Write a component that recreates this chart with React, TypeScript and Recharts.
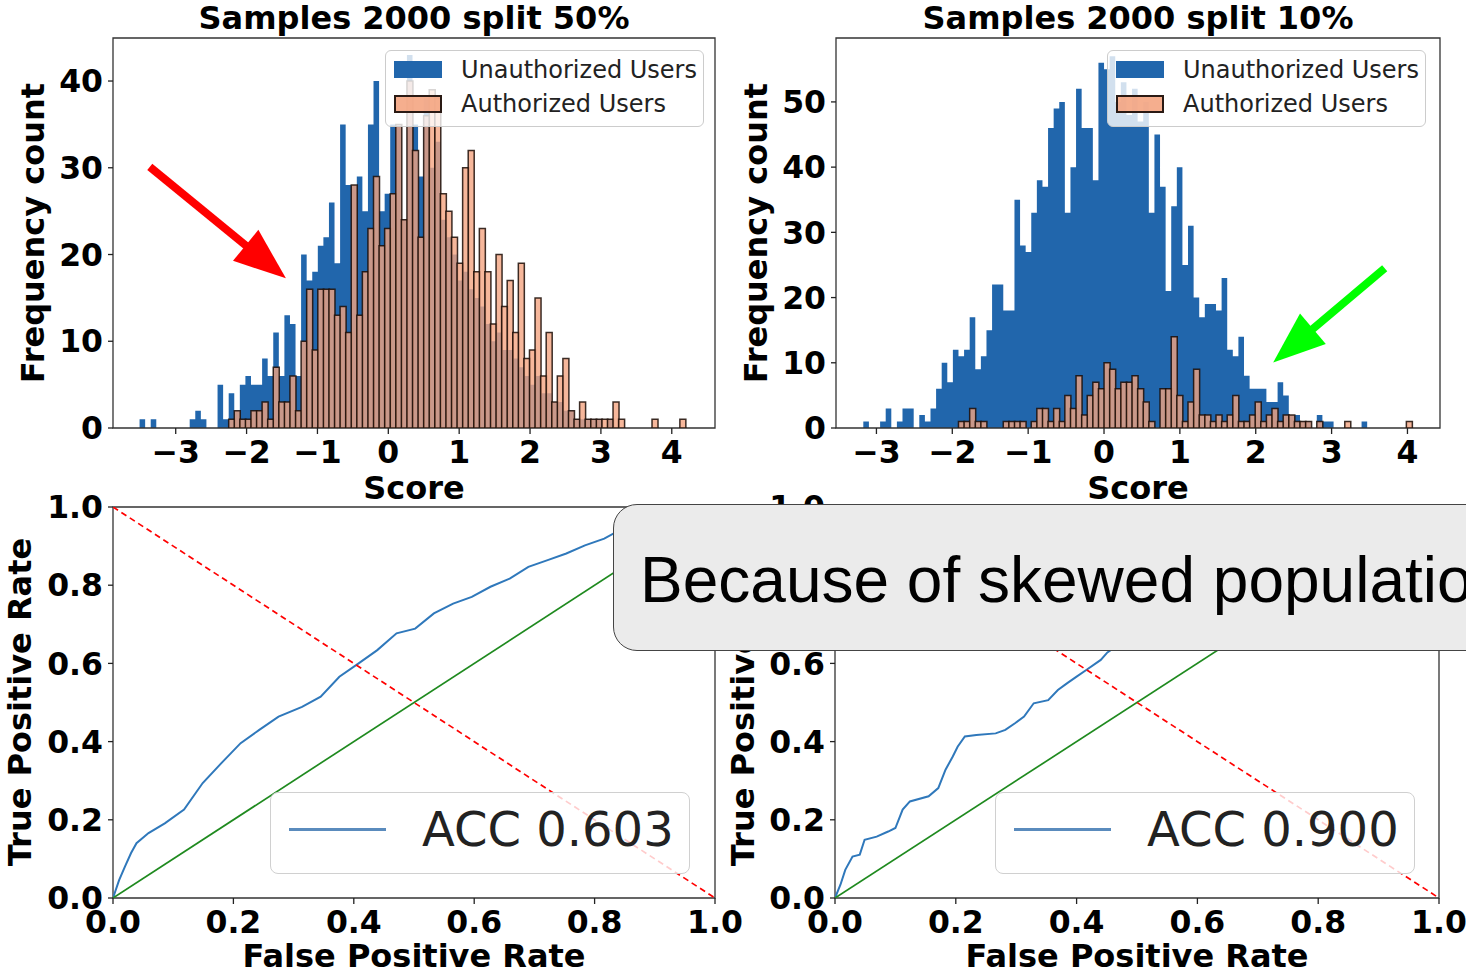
import React from 'react';
import {
  ComposedChart,
  LineChart,
  Line,
  Area,
  Bar,
  XAxis,
  YAxis,
  ReferenceArea,
  ReferenceLine,
  Legend,
} from 'recharts';

const FONT = '"DejaVu Sans", "Liberation Sans", sans-serif';
const BLUE = '#2166ac';
const SALMON = '#f4a582';

// ---------------- data ----------------
const titles = ['Samples 2000 split 50%', 'Samples 2000 split 10%'];
const seriesNames = ['Unauthorized Users', 'Authorized Users'];
const histXLabel = 'Score';
const histYLabel = 'Frequency count';
const rocXLabel = 'False Positive Rate';
const rocYLabel = 'True Positive Rate';
const accLabels = ['ACC 0.603', 'ACC 0.900'];
const calloutText = 'Because of skewed population';

const histTicks = [-3, -2, -1, 0, 1, 2, 3, 4];
const tlCountTicks = [0, 10, 20, 30, 40];
const trCountTicks = [0, 10, 20, 30, 40, 50];
const rateTicks = [0, 0.2, 0.4, 0.6, 0.8, 1.0];

// split 50% histogram (common bins)
const tlBinStart = -3.51;
const tlBinWidth = 0.0786;
const tlUnauthorized = [
  1, 0, 1, 0, 0, 0, 0, 0, 0, 1,
  2, 1, 0, 0, 5, 1, 4, 2, 5, 6,
  5, 5, 8, 6, 11, 6, 13, 12, 6, 20,
  17, 18, 21, 22, 26, 19, 35, 28, 28, 29,
  25, 35, 40, 25, 27, 35, 35, 24, 43, 35,
  29, 38, 30, 33, 24, 22, 20, 17, 18, 16,
  15, 14, 12, 10, 11, 9, 9, 8, 7, 6,
  5, 6, 4, 4, 3, 3, 2, 2, 1, 1,
  1, 1, 1, 0, 1, 0, 0, 0, 0, 0,
  0, 0, 0, 0, 0, 0, 0, 0, 0, 0,
];
const tlAuthorized = [
  0, 0, 0, 0, 0, 0, 0, 0, 0, 0,
  0, 0, 0, 0, 0, 0, 1, 2, 1, 1,
  2, 2, 3, 1, 7, 3, 3, 6, 2, 10,
  16, 9, 16, 16, 16, 13, 14, 11, 28, 13,
  18, 23, 29, 21, 23, 27, 35, 24, 40, 32,
  22, 36, 39, 38, 27, 25, 22, 19, 30, 32,
  18, 23, 18, 12, 20, 14, 17, 11, 19, 8,
  9, 15, 6, 11, 3, 6, 8, 2, 1, 3,
  1, 1, 1, 1, 1, 3, 1, 0, 0, 0,
  0, 0, 1, 0, 0, 0, 0, 1, 0, 0,
];

// split 10% histogram (common bins)
const trBinStart = -3.173;
const trBinWidth = 0.0738;
const trUnauthorized = [
  1, 0, 0, 1, 3, 0, 1, 3, 3, 0,
  2, 1, 3, 6, 10, 7, 12, 11, 12, 17,
  9, 11, 15, 22, 22, 18, 18, 35, 28, 27,
  33, 38, 37, 46, 49, 50, 33, 40, 52, 46,
  46, 38, 56, 55, 57, 50, 53, 48, 52, 47,
  50, 33, 45, 37, 21, 34, 40, 25, 31, 20,
  17, 19, 19, 18, 23, 12, 11, 14, 8, 6,
  6, 6, 4, 4, 7, 5, 2, 2, 1, 1,
  0, 2, 1, 1, 0, 0, 0, 0, 0, 1,
  0, 0, 0, 0, 0, 0, 0, 0, 0,
];
const trAuthorized = [
  0, 0, 0, 0, 0, 0, 0, 0, 0, 0,
  0, 0, 0, 0, 0, 0, 0, 1, 1, 3,
  1, 1, 0, 0, 0, 1, 1, 1, 1, 0,
  1, 3, 3, 1, 3, 1, 5, 3, 8, 2,
  5, 7, 6, 10, 9, 6, 7, 7, 8, 6,
  4, 1, 0, 6, 6, 14, 5, 1, 4, 9,
  2, 2, 1, 2, 1, 2, 5, 1, 1, 2,
  4, 1, 2, 3, 1, 2, 2, 1, 1, 1,
  0, 1, 0, 0, 0, 0, 1, 0, 0, 0,
  0, 0, 0, 0, 0, 0, 0, 1, 0,
];

// ROC curves
const roc50Fpr = [0, 0.01, 0.02, 0.03, 0.039, 0.059, 0.086, 0.118, 0.149, 0.18, 0.212, 0.243, 0.275, 0.314, 0.345, 0.376, 0.408, 0.439, 0.471, 0.502, 0.533, 0.565, 0.596, 0.627, 0.659, 0.69, 0.722, 0.753, 0.784, 0.816, 0.831, 0.87, 0.92, 0.96, 1];
const roc50Tpr = [0, 0.045, 0.081, 0.115, 0.14, 0.166, 0.191, 0.226, 0.294, 0.345, 0.396, 0.43, 0.464, 0.489, 0.515, 0.566, 0.6, 0.634, 0.677, 0.689, 0.728, 0.753, 0.77, 0.796, 0.817, 0.847, 0.864, 0.881, 0.902, 0.919, 0.932, 0.945, 0.965, 0.985, 1];
const roc10Fpr = [0, 0.009, 0.017, 0.029, 0.041, 0.049, 0.069, 0.088, 0.1, 0.112, 0.124, 0.155, 0.171, 0.183, 0.195, 0.203, 0.215, 0.234, 0.266, 0.282, 0.298, 0.313, 0.329, 0.353, 0.369, 0.384, 0.4, 0.416, 0.44, 0.451, 0.5, 0.6, 0.7, 0.8, 0.9, 1];
const roc10Tpr = [0, 0.034, 0.072, 0.106, 0.111, 0.149, 0.157, 0.17, 0.179, 0.226, 0.247, 0.26, 0.281, 0.328, 0.362, 0.387, 0.413, 0.417, 0.421, 0.43, 0.447, 0.464, 0.498, 0.506, 0.532, 0.549, 0.566, 0.583, 0.609, 0.628, 0.68, 0.76, 0.83, 0.9, 0.95, 1];
const chanceLine = [{ fpr: 0, tpr: 0 }, { fpr: 1, tpr: 1 }];
const thresholdLine = [{ fpr: 0, tpr: 1 }, { fpr: 1, tpr: 0 }];

// annotation arrows (data coordinates of the histogram they sit on)
const redArrow = [{ x: -3.366, y: 30.1 }, { x: -1.445, y: 17.26 }];
const greenArrow = [{ x: 3.7, y: 24.5 }, { x: 2.23, y: 10.06 }];

// ---------------- helpers ----------------
function histTable(start: number, width: number, u: number[], a: number[]) {
  const rows: { x: number; u: number; a: number }[] = [];
  for (let i = -1; i <= u.length; i++) {
    const inside = i >= 0 && i < u.length;
    rows.push({ x: start + width * (i + 0.5), u: inside ? u[i] : 0, a: inside ? a[i] : 0 });
  }
  return rows;
}
function rocTable(f: number[], t: number[]) {
  return f.map((v, i) => ({ fpr: v, tpr: t[i] }));
}
const fmtScore = (v: number) => (v < 0 ? '\u2212' + Math.abs(v) : String(v));
const fmtRate = (v: number) => v.toFixed(1);

const tickStyle = { fill: '#000', fontSize: 31.5, fontWeight: 'bold', fontFamily: FONT } as any;
const tickLineStyle = { stroke: '#222', strokeWidth: 1.3 };

const makeArrow = (color: string) => (props: any) => {
  const { x1, y1, x2, y2 } = props;
  const dx = x2 - x1;
  const dy = y2 - y1;
  const len = Math.hypot(dx, dy) || 1;
  const ux = dx / len;
  const uy = dy / len;
  const headLen = 52;
  const headW = 40;
  const bx = x2 - ux * headLen;
  const by = y2 - uy * headLen;
  const px = -uy;
  const py = ux;
  return (
    <g>
      <line x1={x1} y1={y1} x2={bx + ux * 3} y2={by + uy * 3} stroke={color} strokeWidth={8} />
      <polygon
        points={`${x2},${y2} ${bx + (px * headW) / 2},${by + (py * headW) / 2} ${bx - (px * headW) / 2},${by - (py * headW) / 2}`}
        fill={color}
      />
    </g>
  );
};

function HistLegend() {
  return (
    <div
      style={{
        width: 319,
        height: 77,
        boxSizing: 'border-box',
        border: '1px solid #cccccc',
        borderRadius: 6,
        background: 'rgba(255,255,255,0.8)',
        position: 'relative',
        fontFamily: FONT,
        fontSize: 24,
        color: '#222',
      }}
    >
      <div style={{ position: 'absolute', left: 8, top: 10, width: 48, height: 17, background: BLUE }} />
      <div
        style={{
          position: 'absolute',
          left: 8,
          top: 44,
          width: 48,
          height: 18,
          boxSizing: 'border-box',
          background: 'rgba(244,165,130,0.9)',
          border: '2px solid #2a1a14',
        }}
      />
      <div style={{ position: 'absolute', left: 75, top: 4, lineHeight: '30px', whiteSpace: 'nowrap' }}>{seriesNames[0]}</div>
      <div style={{ position: 'absolute', left: 75, top: 38, lineHeight: '30px', whiteSpace: 'nowrap' }}>{seriesNames[1]}</div>
    </div>
  );
}

function RocLegend({ label }: { label: string }) {
  return (
    <div
      style={{
        width: 420,
        height: 82,
        boxSizing: 'border-box',
        border: '1px solid #d0d0d0',
        borderRadius: 8,
        background: 'rgba(255,255,255,0.8)',
        position: 'relative',
        fontFamily: FONT,
        fontSize: 48,
        color: '#222',
      }}
    >
      <div style={{ position: 'absolute', left: 18, top: 35, width: 97, height: 3, background: '#5a8bbd' }} />
      <div style={{ position: 'absolute', left: 151, top: 8, lineHeight: '56px', whiteSpace: 'nowrap' }}>{label}</div>
    </div>
  );
}

function Lbl({ text, cx, cy, size = 32, rotate = false }: { text: string; cx: number; cy: number; size?: number; rotate?: boolean }) {
  return (
    <div
      style={{
        position: 'absolute',
        left: cx,
        top: cy,
        transform: `translate(-50%, -50%)${rotate ? ' rotate(-90deg)' : ''}`,
        fontFamily: FONT,
        fontWeight: 'bold',
        fontSize: size,
        lineHeight: 1,
        whiteSpace: 'nowrap',
        color: '#000',
      }}
    >
      {text}
    </div>
  );
}

type HistProps = {
  left: number;
  width: number;
  yAxisWidth: number;
  marginRight: number;
  data: { x: number; u: number; a: number }[];
  xDomain: [number, number];
  yDomain: [number, number];
  yTicks: number[];
  arrow: { x: number; y: number }[];
  arrowColor: string;
};

function Histogram(p: HistProps) {
  return (
    <div style={{ position: 'absolute', left: p.left, top: 0 }}>
      <ComposedChart
        width={p.width}
        height={510}
        data={p.data}
        margin={{ top: 38, right: p.marginRight, bottom: 0, left: 0 }}
        barCategoryGap={0}
        barGap={0}
      >
        <XAxis
          type="number"
          dataKey="x"
          domain={p.xDomain}
          allowDataOverflow
          ticks={histTicks}
          interval={0}
          tickFormatter={fmtScore}
          tick={tickStyle}
          tickLine={tickLineStyle}
          tickSize={6}
          tickMargin={7}
          axisLine={false}
          height={82}
        />
        <YAxis
          type="number"
          domain={p.yDomain}
          allowDataOverflow
          ticks={p.yTicks}
          interval={0}
          tick={tickStyle}
          tickLine={tickLineStyle}
          tickSize={5}
          tickMargin={5}
          axisLine={false}
          width={p.yAxisWidth}
        />
        <Area
          type="step"
          dataKey="u"
          name={seriesNames[0]}
          fill={BLUE}
          fillOpacity={1}
          stroke="none"
          dot={false}
          activeDot={false}
          isAnimationActive={false}
        />
        <Bar
          dataKey="a"
          name={seriesNames[1]}
          fill={SALMON}
          fillOpacity={0.8}
          stroke="#1a0c06"
          strokeOpacity={0.85}
          strokeWidth={1.5}
          isAnimationActive={false}
        />
        <ReferenceArea
          x1={p.xDomain[0]}
          x2={p.xDomain[1]}
          y1={p.yDomain[0]}
          y2={p.yDomain[1]}
          fill="none"
          fillOpacity={0}
          stroke="#333"
          strokeWidth={1.3}
          ifOverflow="visible"
        />
        <ReferenceLine segment={p.arrow} shape={makeArrow(p.arrowColor)} ifOverflow="visible" />
        <Legend
          layout="vertical"
          align="center"
          verticalAlign="middle"
          wrapperStyle={{ position: 'absolute', left: 385, top: 50, width: 319, height: 77 }}
          content={() => <HistLegend />}
        />
      </ComposedChart>
    </div>
  );
}

type RocProps = {
  left: number;
  width: number;
  marginRight: number;
  data: { fpr: number; tpr: number }[];
  label: string;
  legendLeft: number;
};

function Roc(p: RocProps) {
  return (
    <div style={{ position: 'absolute', left: p.left, top: 470 }}>
      <LineChart width={p.width} height={503} margin={{ top: 37, right: p.marginRight, bottom: 0, left: 0 }}>
        <XAxis
          type="number"
          dataKey="fpr"
          domain={[0, 1]}
          allowDataOverflow
          ticks={rateTicks}
          interval={0}
          tickFormatter={fmtRate}
          tick={tickStyle}
          tickLine={tickLineStyle}
          tickSize={6}
          tickMargin={7}
          axisLine={false}
          height={75}
        />
        <YAxis
          type="number"
          dataKey="tpr"
          domain={[0, 1]}
          allowDataOverflow
          ticks={rateTicks}
          interval={0}
          tickFormatter={fmtRate}
          tick={tickStyle}
          tickLine={tickLineStyle}
          tickSize={5}
          tickMargin={5}
          axisLine={false}
          width={113}
        />
        <ReferenceArea x1={0} x2={1} y1={0} y2={1} fill="none" fillOpacity={0} stroke="#333" strokeWidth={1.3} ifOverflow="visible" />
        <Line data={p.data} dataKey="tpr" name={p.label} stroke="#2f78bb" strokeWidth={2} dot={false} activeDot={false} isAnimationActive={false} />
        <Line data={chanceLine} dataKey="tpr" stroke="#1f8a1f" strokeWidth={1.7} dot={false} activeDot={false} isAnimationActive={false} legendType="none" />
        <Line data={thresholdLine} dataKey="tpr" stroke="#ff0000" strokeWidth={1.7} strokeDasharray="6 4" dot={false} activeDot={false} isAnimationActive={false} legendType="none" />
        <Legend
          layout="vertical"
          align="center"
          verticalAlign="middle"
          wrapperStyle={{ position: 'absolute', left: p.legendLeft, top: 322, width: 420, height: 82 }}
          content={() => <RocLegend label={p.label} />}
        />
      </LineChart>
    </div>
  );
}

export default function App() {
  const tlData = histTable(tlBinStart, tlBinWidth, tlUnauthorized, tlAuthorized);
  const trData = histTable(trBinStart, trBinWidth, trUnauthorized, trAuthorized);
  return (
    <div
      style={{
        position: 'absolute',
        left: 0,
        top: 0,
        width: 1466,
        height: 973,
        overflow: 'hidden',
        background: '#fff',
      }}
    >
      <Histogram
        left={0}
        width={740}
        yAxisWidth={113}
        marginRight={25}
        data={tlData}
        xDomain={[-3.885, 4.61]}
        yDomain={[0, 44.96]}
        yTicks={tlCountTicks}
        arrow={redArrow}
        arrowColor="#ff0000"
      />
      <Histogram
        left={722}
        width={744}
        yAxisWidth={114}
        marginRight={26}
        data={trData}
        xDomain={[-3.533, 4.429]}
        yDomain={[0, 59.8]}
        yTicks={trCountTicks}
        arrow={greenArrow}
        arrowColor="#00ff00"
      />
      <Roc left={0} width={760} marginRight={45} data={rocTable(roc50Fpr, roc50Tpr)} label={accLabels[0]} legendLeft={270} />
      <Roc left={722} width={744} marginRight={27} data={rocTable(roc10Fpr, roc10Tpr)} label={accLabels[1]} legendLeft={273} />

      <Lbl text={titles[0]} cx={414} cy={18} />
      <Lbl text={titles[1]} cx={1138} cy={18} />
      <Lbl text={histYLabel} cx={33} cy={233} rotate />
      <Lbl text={histYLabel} cx={756} cy={233} rotate />
      <Lbl text={histXLabel} cx={414} cy={488} />
      <Lbl text={histXLabel} cx={1138} cy={488} />
      <Lbl text={rocYLabel} cx={20} cy={702} rotate />
      <Lbl text={rocYLabel} cx={743} cy={702} rotate />
      <Lbl text={rocXLabel} cx={414} cy={956} />
      <Lbl text={rocXLabel} cx={1137} cy={956} />

      <div
        style={{
          position: 'absolute',
          left: 613,
          top: 504,
          width: 900,
          height: 147,
          boxSizing: 'border-box',
          border: '1.5px solid #444',
          borderRadius: 24,
          background: '#ebebeb',
          overflow: 'hidden',
        }}
      >
        <svg width={900} height={147} style={{ position: 'absolute', left: 0, top: 0 }}>
          <text x={26} y={97} fontSize={64} fontFamily='"Liberation Sans", Arial, sans-serif' fill="#000">
            {calloutText}
          </text>
        </svg>
      </div>
    </div>
  );
}
